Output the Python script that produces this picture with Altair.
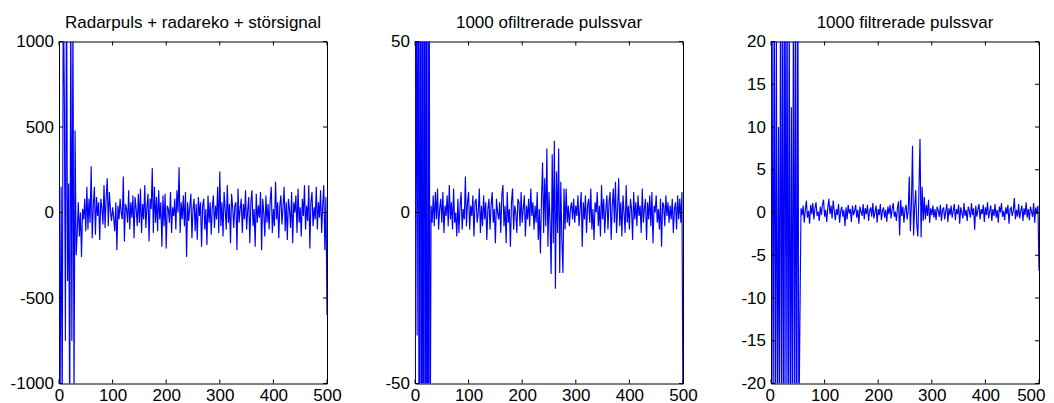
import altair as alt
import pandas as pd

TITLES = ["Radarpuls + radareko + störsignal", "1000 ofiltrerade pulssvar", "1000 filtrerade pulssvar"]
X_TICKS = [0, 100, 200, 300, 400, 500]
Y_TICKS_1 = [-1000, -500, 0, 500, 1000]
Y_TICKS_2 = [-50, 0, 50]
Y_TICKS_3 = [-20, -15, -10, -5, 0, 5, 10, 15, 20]

# sample values at n = 0, 2, 4, ..., 500 (rows of 10)
radar = [
    380, -1100, 150, -1200, 1400, 660, -750, 1500, -400, 170,
    -1300, 1300, -750, 1200, -1100, 480, -250, -120, 60, -140,
    0, -260, 20, -40, 80, -110, 150, -100, 80, -60,
    270, -150, 40, 150, -130, 90, -20, 60, -160, 80,
    30, -70, 160, -90, 90, 200, -80, 120, 10, -50,
    30, -30, -110, 60, -220, 40, -40, 80, 0, -40,
    210, -170, 50, 20, -60, 130, -100, 60, -30, 100,
    -150, 90, 20, -80, 110, -60, 140, -120, 50, -40,
    160, -90, 30, 110, -170, 80, 20, 260, -120, 150,
    -60, 90, -110, 130, -40, 60, -200, 100, -80, 110,
    -210, 40, 20, -60, 120, -120, 30, -20, 80, -100,
    130, 0, 265, -120, 60, -40, 100, -80, 120, -260,
    60, -50, 30, 110, -150, 20, 80, -110, 50, -160,
    90, -20, 60, -200, 40, 80, -100, 20, -190, 100,
    -60, 60, -130, 30, 100, -90, 40, -40, 150, -120,
    240, -80, 60, -140, 120, 20, -100, 160, -60, 50,
    -180, 110, 30, -90, 40, 60, -220, 140, -60, 20,
    80, -120, 50, -40, 130, -100, 10, 90, -180, 60,
    130, -80, 20, -200, 110, -60, 40, -30, 120, -220,
    80, 0, -140, 100, -60, 50, -100, 70, 150, -120,
    20, -80, 180, -40, 60, -150, 40, 100, -70, 30,
    150, -110, 60, -160, 80, 20, -90, 120, -180, 60,
    0, 100, -120, 140, -60, 30, -140, 80, -20, 160,
    -100, 40, -50, 160, -210, 60, 120, -80, 30, -40,
    150, -100, 60, -30, 130, -120, 40, 160, -220, 90,
    -600,
]

unfiltered = [
    -80, 90, -36, 120, -150, 200, -180, 160, -220, 250,
    -200, 180, -240, 150, -90, 2, -3, 5, -4, 6,
    -2, 7, -5, 1, 4, -3, 6, -6, 2, -1,
    5, -4, 8, -2, 3, -5, 7, -3, 0, -7,
    4, -6, 2, 6, -5, 1, -2, 10.5, -4, 3,
    6, -5, 2, -1, 5, -7, 3, 4, -3, 0,
    7, -6, 2, -4, 5, -2, 3, -8, 1, 4,
    -5, 2, 6, -3, 1, -9, 4, 0, -2, 3,
    -6, 5, 8, -4, 2, -9, 6, -3, 1, -10,
    3, 7, -5, 2, 0, -6, 4, 3, -4, 6,
    -3, 1, 5, -7, 2, -2, 4, -4, 7, -1,
    3, -5, 2, -3, 6, -8, 1, -12, 4, 14.6,
    -6, 10, -4, 18.7, -10, 6, -3, -18, 17, -9,
    21, -22.3, 12, -6, 18.7, -17.7, 9, -8, -17.7, 7,
    -5, 7, -3, 2, -4, 1, 3, -2, 4, -3,
    2, -1, 5, -4, 1, 6, -10, 3, -2, 5,
    -6, 2, 4, -3, 7, -5, 1, -8, 3, 0,
    6, -4, 2, -7, 8, -2, 4, -6, 1, 5,
    -5, 3, 6, -8, 2, 7, -3, 9, -6, 1,
    10, -4, 3, -7, 5, 0, -6, 8, -3, 2,
    -5, 4, 1, -8, 6, -2, 3, -4, 5, -1,
    2, -6, 7, -3, 1, 4, -8, 3, -2, 5,
    -4, 6, -9, 2, 0, 5, -3, 1, -5, 4,
    -10, 3, 2, -4, 5, -1, 3, -3, 2, -2,
    4, -6, 1, 3, -5, 5, -2, 4, -3, 6,
    -60,
]

filtered = [
    -3.5, 25, -25, 30, -28, 22, -30, 10, -26, 35,
    -30, 28, -35, 40, -25, 30, -32, 26, -30, 12.3,
    -28, 34, -30, 26, -35, 30, -26, -12.2, 0.5, -0.3,
    0.8, -1.2, 0.3, 1.4, -0.6, 0.2, -1.3, 0.9, -0.2, 1.1,
    -0.8, 0.5, 1.2, -0.4, 0.1, -1.0, 0.7, -0.3, 0.9, 1.5,
    -0.5, 0.3, -1.1, 0.6, 1.6, -0.2, 0.8, -0.7, 1.4, 0.2,
    -0.9, 0.4, -0.3, 1.0, -1.2, 0.1, 0.7, -0.5, 0.3, -1.6,
    0.6, -0.8, 0.9, -0.1, 0.4, -1.1, 0.8, -0.3, 0.2, 0.9,
    -0.6, 0.3, -1.3, 0.7, 0.1, -0.4, 1.0, -0.8, 0.5, -0.2,
    0.9, -1.0, 0.2, 0.6, -0.5, 1.1, -0.7, 0.0, 0.8, -1.2,
    0.4, -0.3, 1.0, -0.9, 0.2, 0.6, -0.6, 0.3, -1.1, 0.7,
    -0.2, 0.9, -0.7, 0.4, 1.1, -0.5, 0.1, -1.0, 0.6, 1.3,
    -2.7, 1.5, -0.4, 0.7, -1.2, 0.3, 0.9, -0.8, 0.2, 4.2,
    -2.2, 1.0, 7.8, -2.7, 0.6, 2.6, -1.5, -2.8, 2.5, 8.6,
    -2.9, 3.0, -1.0, 1.8, -0.8, 0.9, -0.4, 1.5, -1.2, 0.5,
    -0.3, 0.8, -0.6, 0.4, -0.9, 0.7, 0.2, -0.5, 0.9, -1.0,
    0.3, 0.6, -0.8, 0.1, 1.0, -1.1, 0.5, -0.3, 0.8, -0.6,
    0.2, 1.0, -0.9, 0.4, -0.2, 0.9, -1.3, 0.6, 0.0, -0.7,
    1.1, -0.4, 0.3, -1.0, 0.7, 0.2, -0.6, 1.1, -0.3, 0.5,
    -2.0, 0.8, -0.5, 0.3, 1.0, -0.8, 0.4, -0.2, 0.9, -1.1,
    0.6, -0.3, 1.2, -0.7, 0.1, 0.8, -1.0, 0.4, -0.4, 1.0,
    -0.6, 0.3, -1.2, 0.7, 0.0, 1.1, -0.5, 0.2, -0.9, 0.6,
    -0.2, 0.9, -1.3, 0.4, 0.6, -0.4, 0.2, 1.7, -0.8, 0.3,
    -0.5, 1.0, -0.7, 0.2, 0.8, -1.0, 0.5, -0.3, 1.2, -0.6,
    0.4, -0.9, 0.7, 0.1, -0.5, 1.1, -1.2, 0.6, -0.2, 0.8,
    -6.8,
]

W, H = 268, 342
FONT = "Liberation Sans"
TICK = 4


def panel(values, title, ydom, yticks, last=False):
    df = pd.DataFrame({"n": [2 * i for i in range(len(values))], "v": values})
    xs = alt.Scale(domain=[0, 500], nice=False, zero=False)
    ys = alt.Scale(domain=ydom, nice=False, zero=False)
    if last:
        xa = alt.Axis(values=X_TICKS, title=None, labelExpr="'' + datum.value", labelPadding=4,
                      labelFlush=True, labelFlushOffset=6)
    else:
        xa = alt.Axis(values=X_TICKS, title=None, labelExpr="'' + datum.value", labelPadding=4)
    ya = alt.Axis(values=yticks, title=None, labelExpr="'' + datum.value", labelPadding=5.5)
    line = alt.Chart(df).mark_line(color="#0000FF", strokeWidth=1.15, clip=True).encode(
        x=alt.X("n:Q", scale=xs, axis=xa),
        y=alt.Y("v:Q", scale=ys, axis=ya),
    )
    xt = pd.DataFrame({"t": X_TICKS})
    yt = pd.DataFrame({"t": yticks})
    bottom = alt.Chart(xt).mark_rule(color="black", strokeWidth=1).encode(
        x=alt.X("t:Q", scale=xs, axis=xa), y=alt.value(H), y2=alt.value(H - TICK))
    top = alt.Chart(xt).mark_rule(color="black", strokeWidth=1).encode(
        x=alt.X("t:Q", scale=xs, axis=xa), y=alt.value(0), y2=alt.value(TICK))
    left = alt.Chart(yt).mark_rule(color="black", strokeWidth=1).encode(
        y=alt.Y("t:Q", scale=ys, axis=ya), x=alt.value(0), x2=alt.value(TICK))
    right = alt.Chart(yt).mark_rule(color="black", strokeWidth=1).encode(
        y=alt.Y("t:Q", scale=ys, axis=ya), x=alt.value(W), x2=alt.value(W - TICK))
    return alt.layer(line, bottom, top, left, right).properties(
        width=W, height=H,
        title=alt.TitleParams(title, font=FONT, fontSize=17, fontWeight="normal",
                              color="black", offset=0.5, anchor="middle", frame="group"),
    )


p1 = panel(radar, TITLES[0], [-1000, 1000], Y_TICKS_1)
p2 = panel(unfiltered, TITLES[1], [-50, 50], Y_TICKS_2)
p3 = panel(filtered, TITLES[2], [-20, 20], Y_TICKS_3, last=True)

chart = alt.hconcat(p1, p2, p3, spacing=88, bounds="flush").properties(
    padding={"left": 1, "top": 5.5, "right": 0, "bottom": 0},
    background="white",
).configure_view(
    stroke="black", strokeWidth=1
).configure_axis(
    domain=False, ticks=False, grid=False,
    labelFont=FONT, labelFontSize=17, labelColor="black",
    labelFlush=False, labelOverlap=False,
)

chart.save("out.html", embed_options={"renderer": "svg", "actions": False})
